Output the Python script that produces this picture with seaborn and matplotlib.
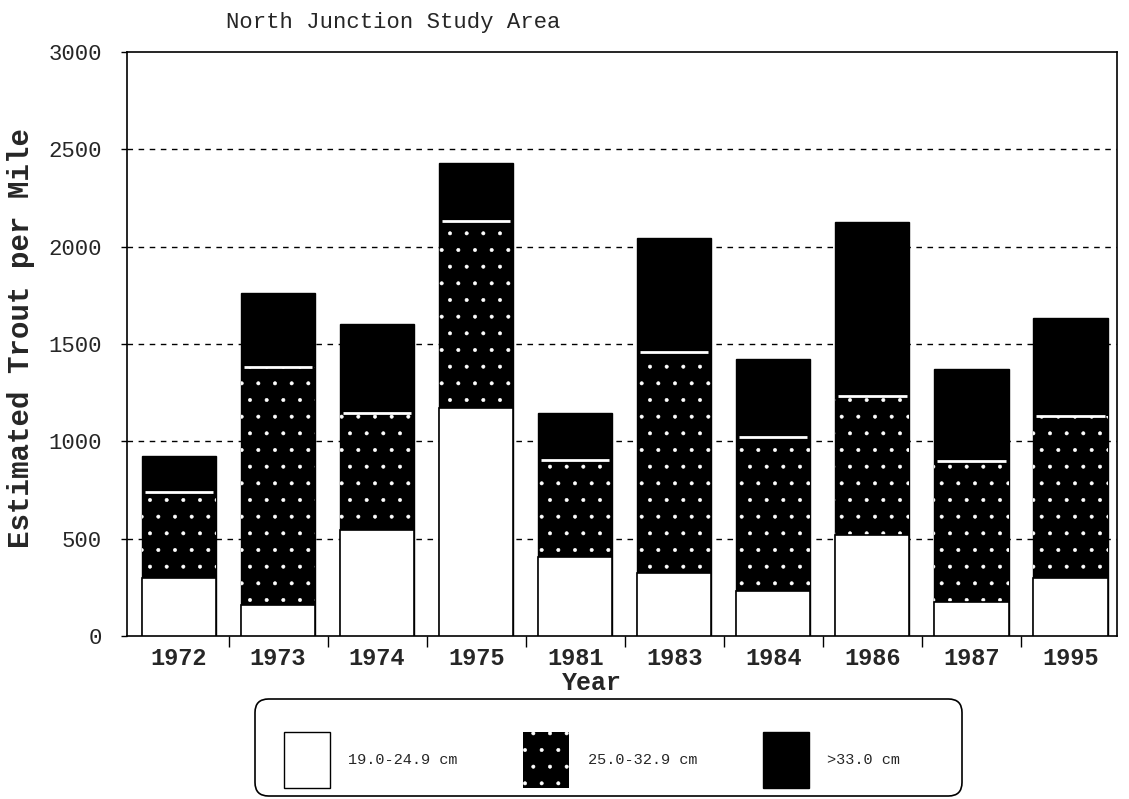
import matplotlib
matplotlib.use("Agg")
import matplotlib.pyplot as plt
from matplotlib.patches import Patch, FancyBboxPatch
import numpy as np
import pandas as pd
import seaborn as sns

# Estimated trout per mile by size class, North Junction study area
years = ["1972", "1973", "1974", "1975", "1981", "1983", "1984", "1986", "1987", "1995"]
small = [298, 159, 544, 1170, 406, 324, 231, 519, 175, 298]      # 19.0-24.9 cm
medium = [442, 1223, 601, 961, 498, 1135, 791, 714, 724, 832]    # 25.0-32.9 cm
large = [185, 380, 457, 298, 241, 585, 401, 893, 472, 503]       # >33.0 cm
size_labels = ["19.0-24.9 cm", "25.0-32.9 cm", ">33.0 cm"]
y_ticks = [0, 500, 1000, 1500, 2000, 2500, 3000]

df = pd.DataFrame({"Year": years, "small": small, "medium": medium, "large": large})
df["upto_medium"] = df["small"] + df["medium"]
df["total"] = df["upto_medium"] + df["large"]

sns.set_theme(style="white")
plt.rcParams["font.family"] = ["Liberation Mono", "DejaVu Sans Mono"]
plt.rcParams["hatch.linewidth"] = 0.4

W, H = 1129, 799
fig = plt.figure(figsize=(W / 100, H / 100), dpi=100)
ax = fig.add_axes([127 / W, 1 - 636 / H, 990 / W, 584 / H])

bar_w = 0.75
common = dict(x="Year", order=years, width=bar_w, saturation=1, ax=ax, errorbar=None)

# stacked layers, tallest first
sns.barplot(data=df, y="total", color="black", edgecolor="black", linewidth=1, zorder=2, **common)
sns.barplot(data=df, y="upto_medium", color="black", edgecolor="white", linewidth=0,
            hatch=".", zorder=3, **common)
sns.barplot(data=df, y="small", color="white", edgecolor="black", linewidth=1.2, zorder=4, **common)

# white seam between the medium and large classes
xpos = np.arange(len(years))
ax.hlines(df["upto_medium"], xpos - bar_w / 2 + 0.03, xpos + bar_w / 2 - 0.03,
          colors="white", linewidth=2, zorder=5)

ax.set_xlim(-0.525, len(years) - 0.53)
ax.set_ylim(0, 3000)
ax.set_yticks(y_ticks)
ax.set_yticklabels([str(v) for v in y_ticks], fontsize=16)
ax.set_xticks(xpos)
ax.set_xticklabels(years, fontsize=17, fontweight="bold")
ax.set_xticks(xpos[:-1] + 0.5, minor=True)
ax.tick_params(axis="x", which="major", length=0, pad=8)
ax.tick_params(axis="x", which="minor", direction="out", length=8, width=1, color="black", bottom=True)
ax.tick_params(axis="y", direction="out", length=4, width=1, color="black", left=True, pad=14)

# dashed reference lines
for v in y_ticks[1:-1]:
    ax.axhline(v, color="black", linestyle=(0, (4, 4)), linewidth=1, zorder=1)

for s in ax.spines.values():
    s.set_color("black")
    s.set_linewidth(1.2)
    s.set_visible(True)

ax.set_xlabel("Year", fontsize=18, fontweight="bold", va="center")
ax.xaxis.set_label_coords(0.47, -0.08)
ax.set_ylabel("Estimated Trout per Mile", fontsize=21, fontweight="bold")
ax.yaxis.set_label_coords(-0.093, 0.51)

fig.text(0.348, 0.972, "North Junction Study Area", fontsize=16, ha="center", va="center")

# legend: rounded outer box plus a frameless key inside it
box = FancyBboxPatch((255 / W, 3 / H), 707 / W, 97 / H, transform=fig.transFigure,
                     boxstyle="round,pad=0,rounding_size=0.012", mutation_aspect=W / H,
                     facecolor="white", edgecolor="black", linewidth=1.2)
fig.patches.append(box)

handles = [
    Patch(facecolor="white", edgecolor="black", linewidth=1),
    Patch(facecolor="black", edgecolor="white", hatch=".", linewidth=0),
    Patch(facecolor="black", edgecolor="black", linewidth=1),
]
leg = fig.legend(handles, size_labels, loc="center", bbox_to_anchor=(592 / W, 1 - 760 / H), ncol=3,
                 frameon=False, fontsize=11, handlelength=3.0, handleheight=5.3,
                 handletextpad=1.2, columnspacing=4.3, borderpad=0, borderaxespad=0)

fig.savefig("out.png", dpi=100)
